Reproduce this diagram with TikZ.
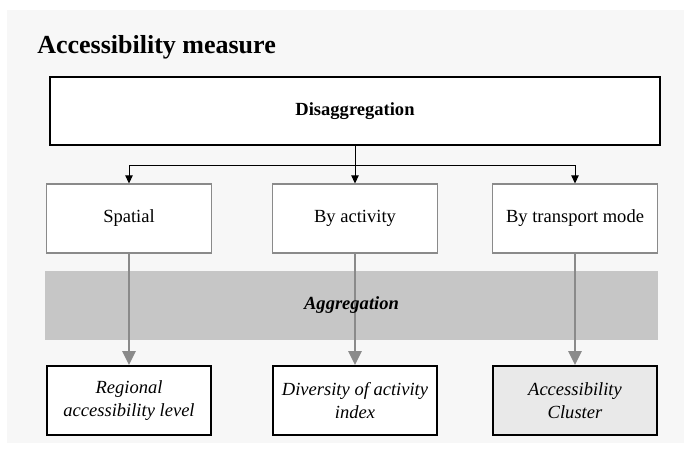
\documentclass[tikz,border=0pt]{standalone}
\usepackage{fontspec}
\setmainfont{Liberation Serif}
\usetikzlibrary{arrows.meta}
\definecolor{pagegray}{HTML}{F7F7F7}
\definecolor{bandgray}{HTML}{C6C6C6}
\definecolor{linegray}{HTML}{8A8A8A}
\definecolor{resultgray}{HTML}{E9E9E9}
\newcommand{\boxfont}{\fontsize{13.9}{17}\selectfont}
\begin{document}
\begin{tikzpicture}[x=0.75pt, y=-0.75pt,
        topbox/.style={draw, line width=1.5pt, fill=white, inner sep=0pt,
            minimum width=457.5pt, minimum height=51pt, font=\boxfont\bfseries},
        splitbox/.style={draw=linegray, line width=0.8pt, fill=white, inner sep=0pt,
            minimum width=123.5pt, minimum height=51.75pt, font=\boxfont},
        resultbox/.style={draw, line width=1.5pt, fill=white, inner sep=0pt, align=center,
            minimum width=123.5pt, minimum height=51.75pt, font=\boxfont\itshape},
        splitarrow/.style={-{Triangle[length=6pt, width=5.5pt]}, line width=0.75pt},
        aggarrow/.style={-{Triangle[length=10.5pt, width=10pt]}, draw=linegray, fill=linegray, line width=1.5pt}]
        \useasboundingbox (0, 0) rectangle (684, 450);
        \fill[pagegray] (7, 10) rectangle (684, 443);
        \node[anchor=base west, inner sep=0pt, font=\fontsize{19.5}{23}\selectfont\bfseries] (title) at (37, 53) {Accessibility measure};
        \node[topbox] (dis) at (355, 111) {Disaggregation};
        \node[splitbox] (spatial) at (129, 218.5) {Spatial};
        \node[splitbox] (activity) at (355, 218.5) {By activity};
        \node[splitbox] (mode) at (575, 218.5) {By transport mode};
        \node[fill=bandgray, inner sep=0pt, minimum width=459.75pt, minimum height=51.75pt] (band) at (351.5, 305.5) {};
        \node[resultbox] (regional) at (129, 400.5) {Regional\\accessibility level};
        \node[resultbox] (diversity) at (355, 400.5) {Diversity of activity\\index};
        \node[resultbox, fill=resultgray] (cluster) at (575, 400.5) {Accessibility\\Cluster};
        \coordinate (split) at (355, 165);
        \draw[line width=0.75pt] (dis.south) -- (split);
        \draw[splitarrow] (split) -| (spatial.north);
        \draw[splitarrow] (split) -- (activity.north);
        \draw[splitarrow] (split) -| (mode.north);
        \draw[aggarrow] (spatial.south) -- (regional.north);
        \draw[aggarrow] (activity.south) -- (diversity.north);
        \draw[aggarrow] (mode.south) -- (cluster.north);
        \node[font=\boxfont\bfseries\itshape] (agg) at (band.center) {Aggregation};
    \end{tikzpicture}
\end{document}
